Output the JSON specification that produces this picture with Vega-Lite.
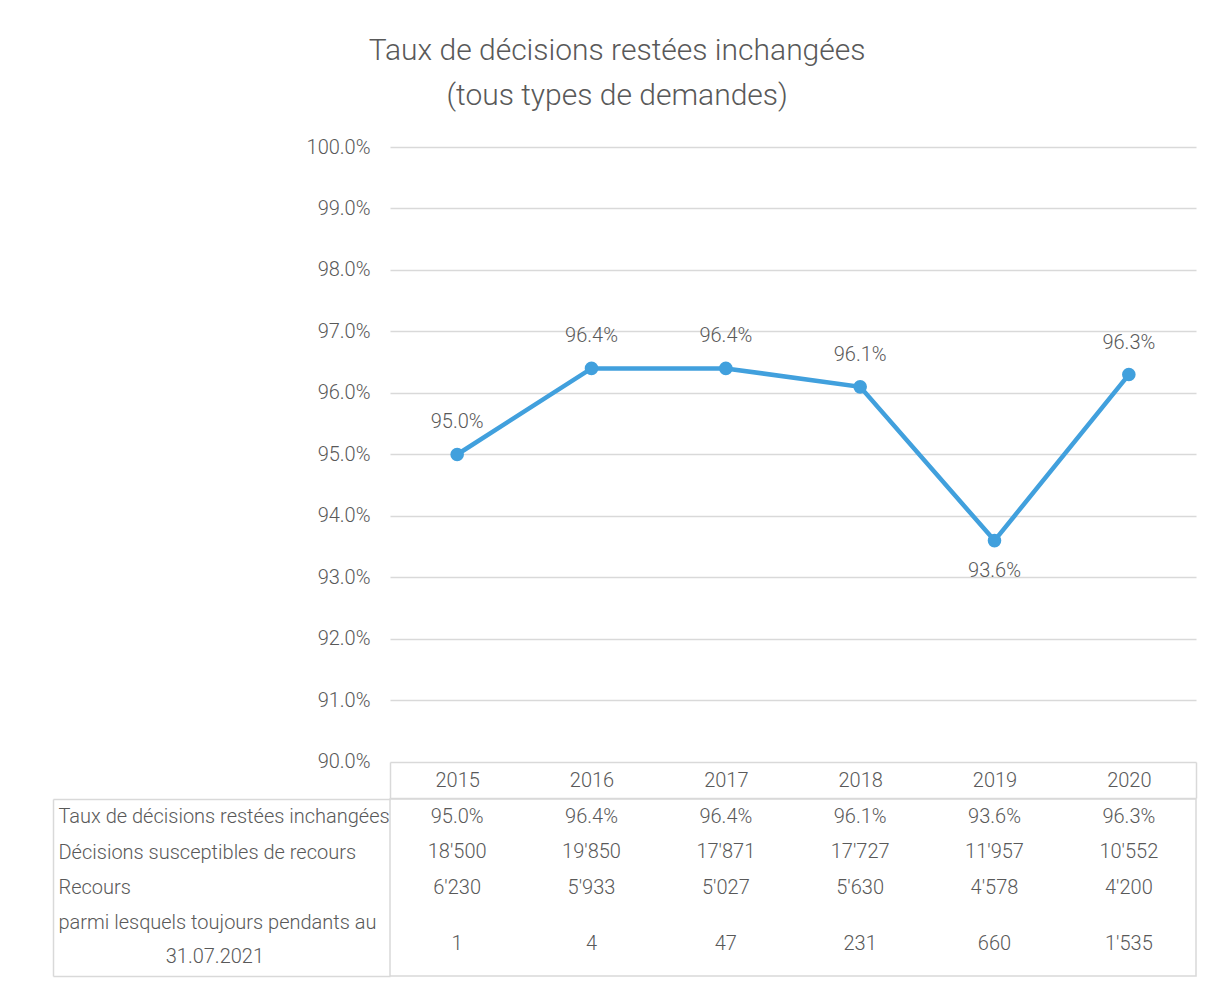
{
  "$schema": "https://vega.github.io/schema/vega-lite/v6.json",
  "background": "white",
  "padding": {"left": 51, "top": 36, "right": 31, "bottom": 7},
  "autosize": {"type": "pad"},
  "title": {
    "text": ["Taux de décisions restées inchangées", "(tous types de demandes)"],
    "font": "Roboto", "fontWeight": 300, "fontSize": 30, "lineHeight": 45,
    "color": "#595959", "anchor": "middle", "offset": 26, "dx": -7
  },
  "config": {
    "font": "Roboto",
    "locale": {"number": {"decimal": ".", "thousands": "'", "grouping": [3], "currency": ["", ""]}},
    "view": {"stroke": null},
    "text": {"font": "Roboto", "fontWeight": 300, "fontSize": 20, "color": "#595959"},
    "axis": {"labelFont": "Roboto", "labelFontWeight": 300, "labelFontSize": 20, "labelColor": "#595959"}
  },
  "data": {"values": [
    {"year": "2015", "rate": 0.950, "decisions": 18500, "recours": 6230, "pendants": 1},
    {"year": "2016", "rate": 0.964, "decisions": 19850, "recours": 5933, "pendants": 4},
    {"year": "2017", "rate": 0.964, "decisions": 17871, "recours": 5027, "pendants": 47},
    {"year": "2018", "rate": 0.961, "decisions": 17727, "recours": 5630, "pendants": 231},
    {"year": "2019", "rate": 0.936, "decisions": 11957, "recours": 4578, "pendants": 660},
    {"year": "2020", "rate": 0.963, "decisions": 10552, "recours": 4200, "pendants": 1535}
  ]},
  "spacing": -11.5,
  "vconcat": [
    {
      "width": 806, "height": 651,
      "encoding": {
        "x": {"field": "year", "type": "ordinal",
              "scale": {"type": "band", "paddingInner": 0, "paddingOuter": 0},
              "axis": {"orient": "bottom", "title": null, "grid": false, "labelAngle": 0,
                       "domain": true, "domainColor": "#d9d9d9", "domainWidth": 1.5,
                       "ticks": true, "tickBand": "extent", "tickSize": -36, "tickColor": "#d9d9d9", "tickWidth": 1.5,
                       "tickOpacity": {"condition": {"test": "datum.index === 1 || datum.extra", "value": 1}, "value": 0},
                       "labelPadding": 18, "labelBaseline": "middle"}},
        "y": {"field": "rate", "type": "quantitative",
              "scale": {"domain": [0.894146, 1.0], "nice": false, "zero": false},
              "axis": {"format": ".1%", "values": [0.9, 0.91, 0.92, 0.93, 0.94, 0.95, 0.96, 0.97, 0.98, 0.99, 1.0],
                       "domain": false, "ticks": false, "labelPadding": 20, "title": null,
                       "grid": true, "gridColor": "#d9d9d9", "gridWidth": 1.5}}
      },
      "layer": [
        {"mark": {"type": "line", "color": "#41A0DD", "strokeWidth": 4.5}},
        {"mark": {"type": "circle", "size": 185, "color": "#41A0DD", "opacity": 1}},
        {"transform": [{"filter": "datum.year != '2019'"}],
         "mark": {"type": "text", "dy": -32},
         "encoding": {"text": {"field": "rate", "type": "quantitative", "format": ".1%"}}},
        {"transform": [{"filter": "datum.year == '2019'"}],
         "mark": {"type": "text", "dy": 30},
         "encoding": {"text": {"field": "rate", "type": "quantitative", "format": ".1%"}}}
      ]
    },
    {
      "width": 806, "height": 177,
      "view": {"stroke": "#d9d9d9", "strokeWidth": 1.5},
      "encoding": {
        "x": {"field": "year", "type": "ordinal", "scale": {"type": "band", "paddingInner": 0, "paddingOuter": 0}, "axis": null}
      },
      "layer": [
        {"mark": {"type": "text"},
         "encoding": {
           "y": {"datum": "Taux de décisions restées inchangées", "type": "nominal",
                 "scale": {"type": "band", "paddingInner": 0, "paddingOuter": 0,
                           "domain": ["Taux de décisions restées inchangées", "Décisions susceptibles de recours", "Recours", "parmi lesquels toujours pendants au 31.07.2021", " "]},
                 "axis": {"orient": "left", "offset": 337, "title": null, "grid": false,
                          "domain": true, "domainColor": "#d9d9d9", "domainWidth": 1.5,
                          "ticks": true, "tickBand": "extent", "tickSize": -337, "tickColor": "#d9d9d9", "tickWidth": 1.5,
                          "tickOpacity": {"condition": {"test": "datum.index === 1 || datum.extra", "value": 1}, "value": 0},
                          "labelLimit": 1000, "labelLineHeight": 34, "labelBaseline": "middle",
                          "labelAlign": "left", "labelPadding": 332,
                          "labelExpr": "datum.value === 'parmi lesquels toujours pendants au 31.07.2021' ? ['parmi lesquels toujours pendants au', '\u200b\u00a0\u00a0\u00a0\u00a0\u00a0\u00a0\u00a0\u00a0\u00a0\u00a0\u00a0\u00a0\u00a0\u00a0\u00a0\u00a0\u00a0\u00a0\u00a0\u00a0\u00a0\u00a031.07.2021'] : datum.label"}},
           "text": {"field": "rate", "type": "quantitative", "format": ".1%"}
         }},
        {"mark": {"type": "text"},
         "encoding": {
           "y": {"datum": "Décisions susceptibles de recours", "type": "nominal"},
           "text": {"field": "decisions", "type": "quantitative", "format": ",d"}
         }},
        {"mark": {"type": "text"},
         "encoding": {
           "y": {"datum": "Recours", "type": "nominal"},
           "text": {"field": "recours", "type": "quantitative", "format": ",d"}
         }},
        {"mark": {"type": "text", "dy": 21},
         "encoding": {
           "y": {"datum": "parmi lesquels toujours pendants au 31.07.2021", "type": "nominal"},
           "text": {"field": "pendants", "type": "quantitative", "format": ",d"}
         }}
      ]
    }
  ]
}
